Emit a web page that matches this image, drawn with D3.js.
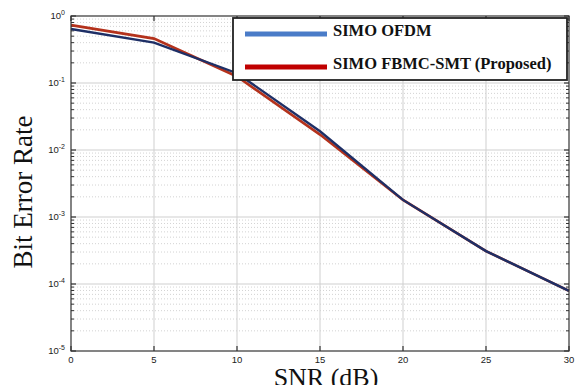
<!DOCTYPE html>
<html>
<head>
<meta charset="utf-8">
<script src="https://cdn.jsdelivr.net/npm/d3@7"></script>
<style>
  body { margin: 0; background: #fff; }
  svg { display: block; }
</style>
</head>
<body>
<div id="chart"></div>
<script>
// data
var snr = [0, 5, 10, 15, 20, 25, 30];
var berOfdm = [0.64, 0.40, 0.14, 0.019, 0.0018, 0.00031, 0.000079];
var berFbmc = [0.73, 0.46, 0.125, 0.017, 0.0018, 0.00031, 0.000079];
var seriesNames = ["SIMO OFDM", "SIMO FBMC-SMT (Proposed)"];
var xTicks = [0, 5, 10, 15, 20, 25, 30];
var yExps = [0, -1, -2, -3, -4, -5];

var width = 575, height = 385;
var margin = { top: 16, right: 6, bottom: 34, left: 71 };
var w = width - margin.left - margin.right,
    h = height - margin.top - margin.bottom;

var svg = d3.select("#chart").append("svg")
    .attr("width", width)
    .attr("height", height);

var g = svg.append("g")
    .attr("transform", "translate(" + margin.left + "," + margin.top + ")");

var x = d3.scaleLinear().domain([0, 30]).range([0, w]);
var y = d3.scaleLog().domain([1e-5, 1]).range([h, 0]);

// minor values for the log grid
var minors = [];
yExps.slice(0, -1).forEach(function(e) {
    for (var k = 2; k <= 9; k++) minors.push(k * Math.pow(10, e - 1));
});

// grid
g.selectAll(".minor").data(minors).enter().append("line")
    .attr("x1", 0).attr("x2", w)
    .attr("y1", function(d) { return y(d); })
    .attr("y2", function(d) { return y(d); })
    .attr("stroke", "#c8c8c8")
    .attr("stroke-width", 0.8)
    .attr("stroke-dasharray", "1,2");

g.selectAll(".ymaj").data(yExps.slice(1, -1)).enter().append("line")
    .attr("x1", 0).attr("x2", w)
    .attr("y1", function(d) { return y(Math.pow(10, d)); })
    .attr("y2", function(d) { return y(Math.pow(10, d)); })
    .attr("stroke", "#cfcfcf")
    .attr("stroke-width", 1);

g.selectAll(".xmaj").data(xTicks.slice(1, -1)).enter().append("line")
    .attr("x1", function(d) { return x(d); })
    .attr("x2", function(d) { return x(d); })
    .attr("y1", 0).attr("y2", h)
    .attr("stroke", "#cfcfcf")
    .attr("stroke-width", 1);

// ticks on all four sides
var tickCol = "#333";
xTicks.forEach(function(t) {
    g.append("line").attr("x1", x(t)).attr("x2", x(t)).attr("y1", h).attr("y2", h - 5)
        .attr("stroke", tickCol).attr("stroke-width", 1.2);
    g.append("line").attr("x1", x(t)).attr("x2", x(t)).attr("y1", 0).attr("y2", 5)
        .attr("stroke", tickCol).attr("stroke-width", 1.2);
});
yExps.forEach(function(e) {
    var yy = y(Math.pow(10, e));
    g.append("line").attr("x1", 0).attr("x2", 5).attr("y1", yy).attr("y2", yy)
        .attr("stroke", tickCol).attr("stroke-width", 1.2);
    g.append("line").attr("x1", w).attr("x2", w - 5).attr("y1", yy).attr("y2", yy)
        .attr("stroke", tickCol).attr("stroke-width", 1.2);
});
minors.forEach(function(m) {
    var yy = y(m);
    g.append("line").attr("x1", 0).attr("x2", 3).attr("y1", yy).attr("y2", yy)
        .attr("stroke", tickCol).attr("stroke-width", 1);
    g.append("line").attr("x1", w).attr("x2", w - 3).attr("y1", yy).attr("y2", yy)
        .attr("stroke", tickCol).attr("stroke-width", 1);
});

// tick labels
g.selectAll(".xl").data(xTicks).enter().append("text")
    .attr("x", function(d) { return x(d); })
    .attr("y", h + 12)
    .attr("text-anchor", "middle")
    .style("font-family", "Liberation Sans, Arial, sans-serif")
    .style("font-size", "9.5px")
    .style("fill", "#222")
    .text(function(d) { return d; });

var yl = g.selectAll(".yl").data(yExps).enter().append("text")
    .attr("x", -6)
    .attr("y", function(d) { return y(Math.pow(10, d)) + 3; })
    .attr("text-anchor", "end")
    .style("font-family", "Liberation Sans, Arial, sans-serif")
    .style("font-size", "9.5px")
    .style("fill", "#222");
yl.append("tspan").text("10");
yl.append("tspan").attr("dy", -4).style("font-size", "7px").text(function(d) { return d; });

// curves
var line = d3.line()
    .x(function(d, i) { return x(snr[i]); })
    .y(function(d) { return y(d); });

g.append("path").datum(berFbmc)
    .attr("d", line)
    .attr("fill", "none")
    .attr("stroke", "#b4321c")
    .attr("stroke-width", 2.6);

g.append("path").datum(berOfdm)
    .attr("d", line)
    .attr("fill", "none")
    .attr("stroke", "#1e2f66")
    .attr("stroke-width", 2.4);

// axes box
g.append("rect").attr("x", 0).attr("y", 0).attr("width", w).attr("height", h)
    .attr("fill", "none").attr("stroke", "#333").attr("stroke-width", 1.2);

// legend
var leg = svg.append("g").attr("transform", "translate(233,18)");
leg.append("rect").attr("width", 334).attr("height", 62)
    .attr("fill", "#fff").attr("stroke", "#222").attr("stroke-width", 1.8);
var legCols = ["#4a7cc8", "#c00000"];
seriesNames.forEach(function(name, i) {
    var ly = 16 + i * 33;
    leg.append("line").attr("x1", 12).attr("x2", 94).attr("y1", ly).attr("y2", ly)
        .attr("stroke", legCols[i]).attr("stroke-width", 5);
    leg.append("text").attr("x", 100).attr("y", ly + 2)
        .style("font-family", "Liberation Serif, Times New Roman, serif")
        .style("font-weight", "bold")
        .style("font-size", "16.5px")
        .style("fill", "#111")
        .text(name);
});

// axis titles
svg.append("text")
    .attr("transform", "translate(32,192) rotate(-90)")
    .attr("text-anchor", "middle")
    .style("font-family", "Liberation Serif, Times New Roman, serif")
    .style("font-size", "27px")
    .style("fill", "#111")
    .text("Bit Error Rate");

svg.append("text")
    .attr("x", 326)
    .attr("y", 386)
    .attr("text-anchor", "middle")
    .style("font-family", "Liberation Serif, Times New Roman, serif")
    .style("font-size", "26px")
    .style("fill", "#111")
    .text("SNR (dB)");
</script>
</body>
</html>
